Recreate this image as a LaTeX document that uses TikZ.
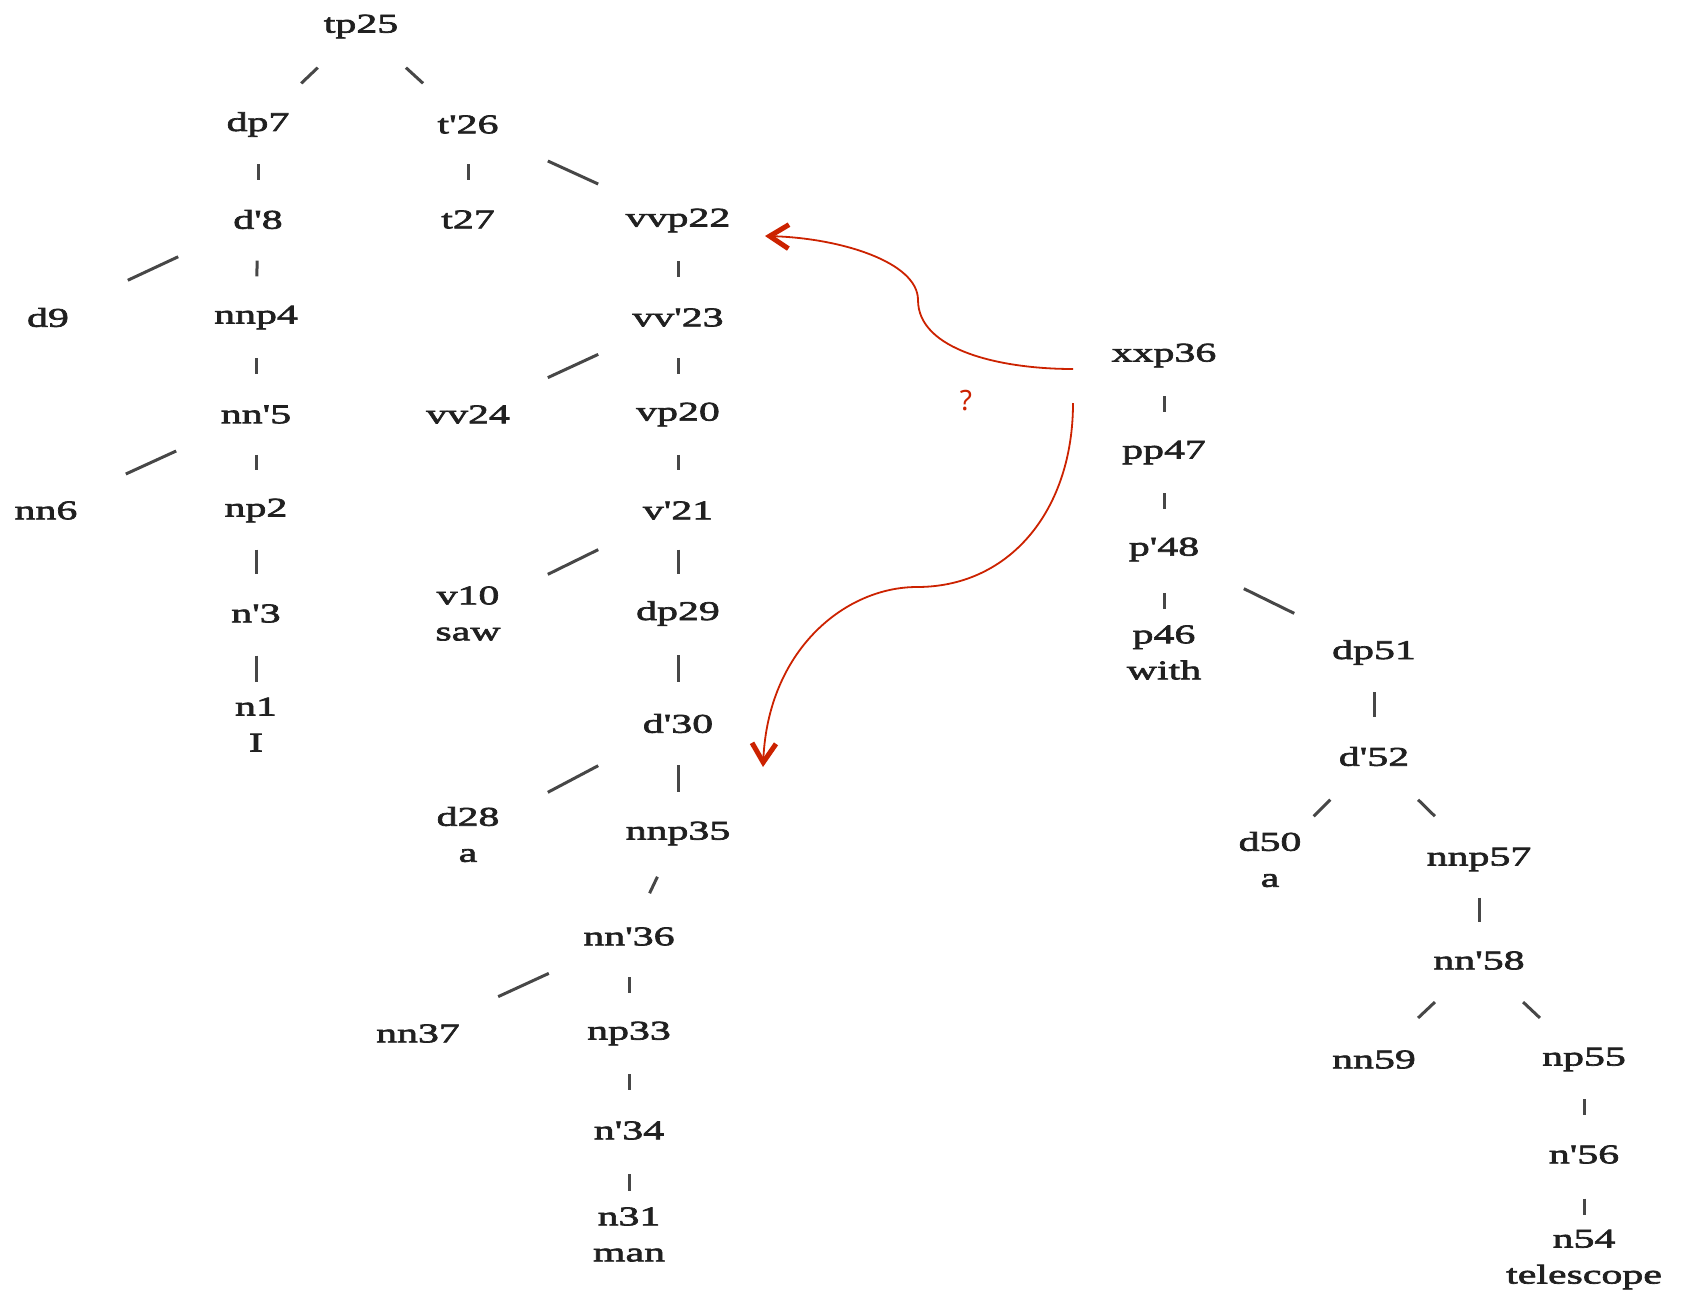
\documentclass[tikz,border=0pt]{standalone}
\usepackage{fontspec}
\newfontfamily\treefont[FakeStretch=1.55,FakeBold=2.5]{Liberation Serif}
\newfontfamily\qfont{Noto Sans}
\usetikzlibrary{calc,arrows.meta}
\definecolor{tgray}{RGB}{32,32,32}
\definecolor{ared}{RGB}{204,34,0}
\tikzset{
  tn/.style={font=\treefont\fontsize{27}{36}\selectfont, text=tgray, inner sep=0pt, align=center, yshift=-2.5pt},
  tline/.style={line width=3pt, draw=black!72},
  redarrow/.style={draw=ared, line width=1.8pt, -{Straight Barb[length=19pt,width=24pt,line width=5pt]}}
}
\newcommand\tl[3][0.42]{\draw[tline] ($(#2)!#1!(#3)$) -- ($(#3)!#1!(#2)$);}
\begin{document}
\begin{tikzpicture}[x=1pt,y=-1pt]
\fill[white] (0,0) rectangle (1688,1293);
\useasboundingbox (0,0) rectangle (1688,1293);
% left and middle tree
\node[tn] (tp25) at (361,24) {tp25};
\node[tn] (dp7) at (258,122) {dp7};
\node[tn] (t26) at (468,122) {t'26};
\node[tn] (d8) at (258,217) {d'8};
\node[tn] (t27) at (468,217) {t27};
\node[tn] (vvp22) at (678,218) {vvp22};
\node[tn] (d9) at (48,315) {d9};
\node[tn] (nnp4) at (256,315) {nnp4};
\node[tn] (vv23) at (678,315) {vv'23};
\node[tn] (nn5) at (256,412) {nn'5};
\node[tn] (vv24) at (468,412) {vv24};
\node[tn] (vp20) at (678,412) {vp20};
\node[tn] (nn6) at (46,508) {nn6};
\node[tn] (np2) at (256,508) {np2};
\node[tn] (v21) at (678,508) {v'21};
\node[tn] (n3) at (256,611) {n'3};
\node[tn] (v10) at (468,611) {v10\\saw};
\node[tn] (dp29) at (678,611) {dp29};
\node[tn] (n1) at (256,722) {n1\\I};
\node[tn] (d30) at (678,721) {d'30};
\node[tn] (d28) at (468,832) {d28\\a};
\node[tn] (nnp35) at (678,831) {nnp35};
\node[tn] (nn36) at (629,934) {nn'36};
\node[tn] (nn37) at (418,1031) {nn37};
\node[tn] (np33) at (629,1031) {np33};
\node[tn] (n34) at (629,1128) {n'34};
\node[tn] (n31) at (629,1232) {n31\\man};
% right tree
\node[tn] (xxp36) at (1164,353) {xxp36};
\node[tn] (pp47) at (1164,450) {pp47};
\node[tn] (p48) at (1164,547) {p'48};
\node[tn] (p46) at (1164,650) {p46\\with};
\node[tn] (dp51) at (1374,650) {dp51};
\node[tn] (d52) at (1374,754) {d'52};
\node[tn] (d50) at (1270,857) {d50\\a};
\node[tn] (nnp57) at (1479,857) {nnp57};
\node[tn] (nn58) at (1479,958) {nn'58};
\node[tn] (nn59) at (1374,1057) {nn59};
\node[tn] (np55) at (1584,1057) {np55};
\node[tn] (n56) at (1584,1152) {n'56};
\node[tn] (n54) at (1584,1257) {n54\\telescope};
% tree lines
\tl{tp25}{dp7}
\tl{tp25}{t26}
\tl{dp7}{d8}
\tl{t26}{t27}
\tl[0.38]{t26}{vvp22}
\tl[0.38]{d8}{d9}
\tl{d8}{nnp4}
\tl{vvp22}{vv23}
\tl{nnp4}{nn5}
\tl[0.38]{vv23}{vv24}
\tl{vv23}{vp20}
\tl[0.38]{nn5}{nn6}
\tl{nn5}{np2}
\tl{vp20}{v21}
\tl[0.38]{np2}{n3}
\tl[0.38]{v21}{v10}
\tl[0.38]{v21}{dp29}
\tl[0.38]{n3}{n1}
\tl[0.38]{dp29}{d30}
\tl[0.38]{d30}{d28}
\tl[0.38]{d30}{nnp35}
\tl{nnp35}{nn36}
\tl[0.38]{nn36}{nn37}
\tl{nn36}{np33}
\tl{np33}{n34}
\tl{n34}{n31}
\tl{xxp36}{pp47}
\tl{pp47}{p48}
\tl{p48}{p46}
\tl[0.38]{p48}{dp51}
\tl[0.38]{dp51}{d52}
\tl{d52}{d50}
\tl{d52}{nnp57}
\tl[0.38]{nnp57}{nn58}
\tl{nn58}{nn59}
\tl{nn58}{np55}
\tl{np55}{n56}
\tl{n56}{n54}
% red arrows
\coordinate (ua) at (1073,369);
\coordinate (ub) at (918,300);
\coordinate (uc) at (765,236);
\coordinate (la) at (1073,403);
\coordinate (lb) at (917,587);
\coordinate (lc) at (763,767);
\draw[redarrow] (ua) .. controls (1000,369) and (918,350) .. (ub)
  .. controls (918,262) and (840,238) .. (uc);
\draw[redarrow] (la) .. controls (1073,510) and (1010,587) .. (lb)
  .. controls (845,587) and (768,650) .. (lc);
\node[font=\qfont\fontsize{28}{30}\selectfont, text=ared, inner sep=0pt] (q) at (966,401) {?};
\end{tikzpicture}
\end{document}
